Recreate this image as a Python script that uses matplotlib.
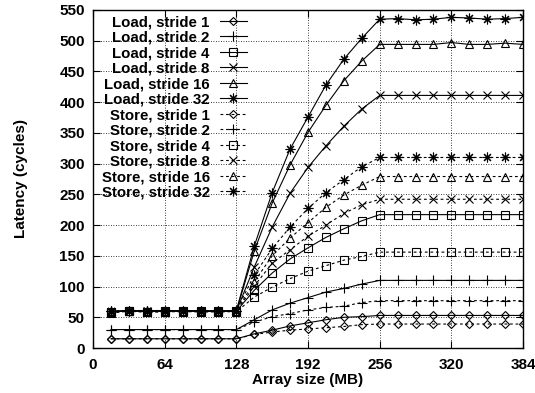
import matplotlib
matplotlib.use("Agg")
import matplotlib.pyplot as plt

plt.rcParams['font.family'] = ['Liberation Sans', 'DejaVu Sans']
plt.rcParams['font.weight'] = 'bold'

sizes = [16, 32, 48, 64, 80, 96, 112, 128, 144, 160, 176, 192,
         208, 224, 240, 256, 272, 288, 304, 320, 336, 352, 368, 384]

load_s1 = [15, 15, 15, 15, 15, 15, 15, 15, 23, 29, 36, 41, 46, 50, 51, 53, 53, 53, 53, 53, 53, 53, 53, 53]
load_s2 = [30, 30, 30, 30, 30, 30, 30, 30, 46, 62, 73, 82, 91, 97, 104, 110, 110, 110, 110, 110, 110, 110, 110, 110]
load_s4 = [58, 61, 59, 60, 60, 60, 60, 60, 94, 122, 145, 163, 180, 194, 207, 217, 217, 217, 217, 217, 217, 217, 217, 217]
load_s8 = [59, 60, 60, 60, 61, 60, 60, 60, 132, 197, 252, 294, 329, 361, 389, 411, 411, 411, 411, 411, 411, 411, 411, 411]
load_s16 = [60, 60, 61, 60, 60, 60, 60, 60, 158, 236, 298, 351, 395, 435, 467, 494, 494, 494, 494, 497, 494, 494, 496, 494]
load_s32 = [60, 61, 60, 61, 60, 61, 60, 61, 166, 253, 324, 376, 428, 470, 504, 535, 536, 534, 535, 538, 537, 535, 536, 538]

store_s1 = [15, 15, 15, 15, 15, 15, 15, 15, 22, 26, 29, 31, 33, 35, 38, 39, 39, 39, 39, 39, 39, 39, 39, 39]
store_s2 = [30, 30, 30, 30, 30, 30, 30, 30, 42, 51, 56, 62, 66, 68, 74, 77, 77, 77, 77, 77, 77, 77, 77, 77]
store_s4 = [57, 60, 58, 59, 59, 59, 59, 59, 83, 99, 113, 125, 134, 143, 149, 156, 156, 156, 156, 156, 156, 156, 156, 156]
store_s8 = [58, 60, 59, 59, 60, 59, 59, 60, 101, 138, 160, 182, 200, 219, 233, 242, 242, 242, 242, 242, 242, 242, 242, 242]
store_s16 = [59, 60, 60, 60, 60, 60, 60, 60, 108, 150, 179, 204, 229, 249, 265, 279, 279, 279, 279, 279, 279, 279, 279, 279]
store_s32 = [60, 61, 61, 61, 60, 61, 60, 61, 119, 162, 197, 227, 253, 274, 295, 310, 310, 310, 310, 310, 310, 310, 310, 310]

labels = ["Load, stride 1", "Load, stride 2", "Load, stride 4", "Load, stride 8",
          "Load, stride 16", "Load, stride 32",
          "Store, stride 1", "Store, stride 2", "Store, stride 4", "Store, stride 8",
          "Store, stride 16", "Store, stride 32"]
series = [load_s1, load_s2, load_s4, load_s8, load_s16, load_s32,
          store_s1, store_s2, store_s4, store_s8, store_s16, store_s32]

x_ticks = [0, 64, 128, 192, 256, 320, 384]
y_ticks = [0, 50, 100, 150, 200, 250, 300, 350, 400, 450, 500, 550]

markers = ['D', '+', 's', 'x', '^', (8, 2, 0)]
msizes = [4.2, 7, 5.5, 6, 5.5, 7]

FS = 11

fig = plt.figure(figsize=(5.35, 3.93), dpi=100)
ax = fig.add_axes([0.174, 0.1145, 0.8036, 0.8601])

for i, (lab, ys) in enumerate(zip(labels, series)):
    k = i % 6
    is_store = i >= 6
    ls = (0, (2.5, 2.5)) if is_store else '-'
    ax.plot(sizes, ys, color='black', linestyle=ls, linewidth=0.8,
            marker=markers[k], markersize=msizes[k], markerfacecolor='none',
            markeredgecolor='black', markeredgewidth=0.8, label=lab)

ax.set_xlim(0, 384)
ax.set_ylim(0, 550)
ax.set_xticks(x_ticks)
ax.set_yticks(y_ticks)
ax.tick_params(direction='in', length=5, width=0.8, top=True, right=True,
               labelsize=FS)
ax.tick_params(axis='x', pad=7.5)
ax.tick_params(axis='y', pad=6)
for lbl in ax.get_xticklabels() + ax.get_yticklabels():
    lbl.set_fontweight('bold')
ax.grid(True, color='black', linestyle=(0, (1, 2)), linewidth=0.6)
for sp in ax.spines.values():
    sp.set_linewidth(1.0)

ax.set_xlabel("Array size (MB)", fontsize=FS, fontweight='bold')
ax.set_ylabel("Latency (cycles)", fontsize=FS, fontweight='bold')
ax.xaxis.set_label_coords(0.5, -0.074)
ax.yaxis.set_label_coords(-0.151, 0.5)

leg = ax.legend(loc='upper right', bbox_to_anchor=(0.37, 1.0), frameon=False,
                markerfirst=False, fontsize=10.8, handlelength=1.8,
                handletextpad=0.67, labelspacing=0.1, borderaxespad=0.0,
                borderpad=0.35)
for t in leg.get_texts():
    t.set_fontweight('bold')

fig.savefig("out.png", dpi=100)
